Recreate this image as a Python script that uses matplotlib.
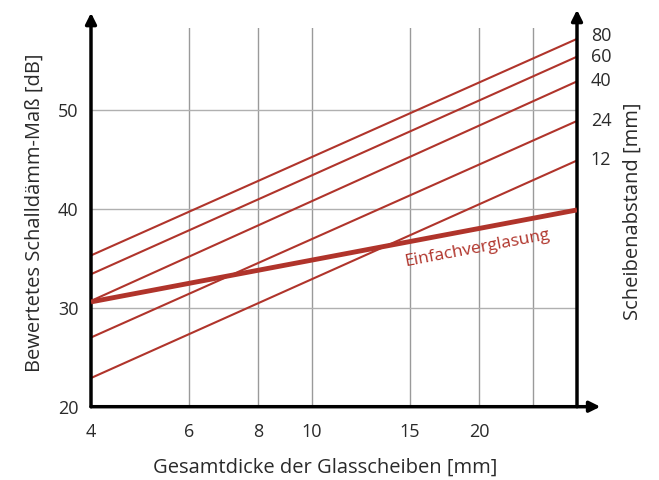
import matplotlib
matplotlib.use("Agg")
import matplotlib.pyplot as plt
import numpy as np

# Total glass thickness range [mm]
thickness = [4, 30]

# Single glazing
single_glazing = [30.6, 39.9]

# Double glazing by pane spacing [mm]
gaps = [12, 24, 40, 60, 80]
rw_at_4 = [22.9, 27.0, 30.7, 33.4, 35.3]
rw_at_30 = [44.9, 48.9, 52.9, 55.4, 57.2]

x_ticks = [4, 6, 8, 10, 15, 20]
x_grid = [6, 8, 10, 15, 20, 25]
y_ticks = [20, 30, 40, 50]

red = "#b0342b"
text_col = "#2a2a2a"
plt.rcParams["font.family"] = ["Open Sans", "DejaVu Sans"]

fig = plt.figure(figsize=(6.59, 4.80), dpi=100)
ax = fig.add_axes([91/659, 1-406.7/480, (577-91)/659, (406.7-28)/480])
ax.set_xscale("log")
ax.set_xlim(4, 30)
ax.set_ylim(20, 58.3)

for xv in x_grid:
    ax.axvline(xv, color="#9a9a9a", lw=1.0, zorder=1)
for yv in y_ticks[1:]:
    ax.axhline(yv, color="#b0b0b0", lw=1.0, zorder=1)

for g, a, b in zip(gaps, rw_at_4, rw_at_30):
    ax.plot(thickness, [a, b], color=red, lw=1.5, zorder=3, solid_capstyle="butt")
    dy = 1.8 if g == 80 else 0
    ax.annotate(str(g), xy=(thickness[1], b), xytext=(10, dy), textcoords="offset points",
                va="center", ha="left", fontsize=13, color=text_col, annotation_clip=False)

ax.plot(thickness, single_glazing, color=red, lw=3.5, zorder=4, solid_capstyle="butt")

# rotate label to follow the single-glazing line
p0 = ax.transData.transform((thickness[0], single_glazing[0]))
p1 = ax.transData.transform((thickness[1], single_glazing[1]))
ang = np.degrees(np.arctan2(p1[1]-p0[1], p1[0]-p0[0]))
ax.text(19.8, 36.0, "Einfachverglasung", color=red, fontsize=12.5, rotation=ang,
        rotation_mode="anchor", ha="center", va="center", zorder=5)

ax.set_xticks(x_ticks)
ax.set_xticklabels([str(v) for v in x_ticks])
ax.xaxis.set_minor_locator(matplotlib.ticker.NullLocator())
ax.set_yticks(y_ticks)
ax.tick_params(axis="both", length=0, labelsize=13, colors=text_col)
ax.tick_params(axis="x", pad=12)
ax.tick_params(axis="y", pad=9)

for s in ["top", "right", "left", "bottom"]:
    ax.spines[s].set_visible(False)

ap = dict(arrowstyle="-|>", color="black", lw=2.5, mutation_scale=16, shrinkA=0, shrinkB=0)
ax.annotate("", xy=(0, 1.04), xytext=(0, 0), xycoords="axes fraction", arrowprops=ap,
            annotation_clip=False)
ax.annotate("", xy=(1.048, 0), xytext=(0, 0), xycoords="axes fraction", arrowprops=ap,
            annotation_clip=False)
ax.annotate("", xy=(1, 1.048), xytext=(1, 0), xycoords="axes fraction", arrowprops=ap,
            annotation_clip=False)

fig.text(325/659, 1-468/480, "Gesamtdicke der Glasscheiben [mm]", ha="center", va="center",
         fontsize=14.5, color=text_col)
fig.text(35/659, 1-213/480, "Bewertetes Schalldämm-Maß [dB]", ha="center", va="center",
         rotation=90, fontsize=14.5, color=text_col)
fig.text(633/659, 1-211/480, "Scheibenabstand [mm]", ha="center", va="center",
         rotation=90, fontsize=14.5, color=text_col)

fig.savefig("out.png", dpi=100)
